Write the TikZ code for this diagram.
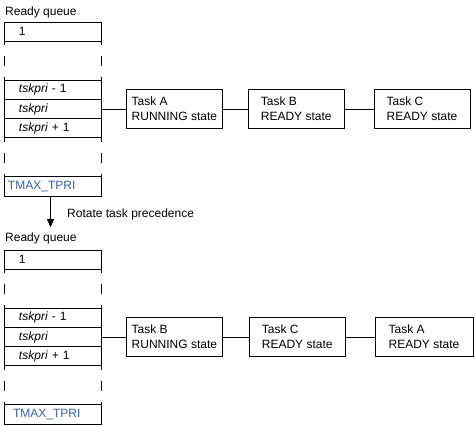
\documentclass[tikz,border=0pt]{standalone}
\usepackage{fontspec}
\setmainfont{Liberation Sans}
\usepackage{tikz}
\usetikzlibrary{arrows.meta,positioning}
\definecolor{tmaxblue}{RGB}{58,95,168}

\begin{document}
\begin{tikzpicture}[x=1pt,y=-1pt,font=\fontsize{12}{15}\selectfont,
    row/.style={draw, line width=0.8pt, outer sep=0pt, minimum width=97pt, minimum height=19.2pt, inner ysep=0pt, inner xsep=15pt, text width=67pt, align=left},
    task/.style={draw, line width=0.8pt, minimum width=96pt, minimum height=38.5pt, align=left, inner xsep=4pt}]
        \tikzstyle{gapline} = [line width=0.8pt, dash pattern=on 10pt off 11pt, dash phase=6pt]
        \tikzstyle{link} = [line width=0.8pt]
        \tikzstyle{flow} = [line width=0.8pt, -{Triangle[length=8pt,width=7pt]}]
        \useasboundingbox (0,0) rectangle (475,426);

        % queue before rotation
        \node[anchor=base west, inner sep=0pt] (readyA) at (5,15) {Ready queue};
        \node[row, anchor=north west] (oneA) at (4,22) {1};
        \node[row, below=39pt of oneA] (pmA) {\textit{tskpri} - 1};
        \node[row, below=0pt of pmA] (priA) {\textit{tskpri}};
        \node[row, below=0pt of priA] (ppA) {\textit{tskpri} + 1};
        \node[row, below=39pt of ppA, inner xsep=4pt, text width=89pt, text=tmaxblue] (tmaxA) {TMAX\_TPRI};
        \node[font=\tiny, text=gray, inner sep=0pt] (dotA) at (89,64) {.};
        \draw[gapline] (oneA.south west) -- (pmA.north west);
        \draw[gapline] (oneA.south east) -- (pmA.north east);
        \draw[gapline] (ppA.south west) -- (tmaxA.north west);
        \draw[gapline] (ppA.south east) -- (tmaxA.north east);

        \node[task, right=25pt of priA] (taskA) {Task A\\RUNNING state};
        \node[task, right=25pt of taskA] (taskB) {Task B\\READY state};
        \node[task, right=29pt of taskB] (taskC) {Task C\\READY state};
        \draw[link] (priA) -- (taskA);
        \draw[link] (taskA) -- (taskB);
        \draw[link] (taskB) -- (taskC);

        % queue after rotation
        \node[anchor=base west, inner sep=0pt] (readyB) at (5,241) {Ready queue};
        \node[row, anchor=north west] (oneB) at (4,250) {1};
        \node[row, below=39pt of oneB] (pmB) {\textit{tskpri} - 1};
        \node[row, below=0pt of pmB] (priB) {\textit{tskpri}};
        \node[row, below=0pt of priB] (ppB) {\textit{tskpri} + 1};
        \node[row, below=39pt of ppB, inner xsep=9pt, text width=79pt, text=tmaxblue] (tmaxB) {TMAX\_TPRI};
        \node[font=\tiny, text=gray, inner sep=0pt] (dotB) at (89,291) {.};
        \draw[gapline] (oneB.south west) -- (pmB.north west);
        \draw[gapline] (oneB.south east) -- (pmB.north east);
        \draw[gapline] (ppB.south west) -- (tmaxB.north west);
        \draw[gapline] (ppB.south east) -- (tmaxB.north east);

        \node[task, right=25pt of priB] (taskB2) {Task B\\RUNNING state};
        \node[task, right=26pt of taskB2] (taskC2) {Task C\\READY state};
        \node[task, right=29pt of taskC2, minimum width=98pt] (taskA2) {Task A\\READY state};
        \draw[link] (priB) -- (taskB2);
        \draw[link] (taskB2) -- (taskC2);
        \draw[link] (taskC2) -- (taskA2);

        \draw[flow, shorten >=5pt] ([xshift=-2pt]tmaxA.south) -- node[right=13pt] (rotate) {Rotate task precedence} ([xshift=-2pt]tmaxA.south |- readyB.north);
\end{tikzpicture}
\end{document}
